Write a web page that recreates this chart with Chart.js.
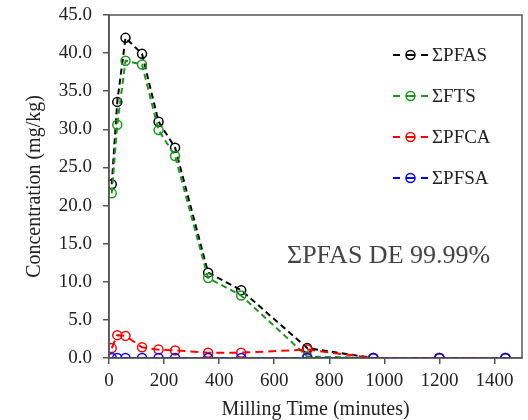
<!DOCTYPE html>
<html>
<head>
<meta charset="utf-8">
<script src="https://cdn.jsdelivr.net/npm/chart.js@4/dist/chart.umd.min.js"></script>
<style>
  html, body { margin: 0; padding: 0; background: #fff; }
  #wrap { width: 528px; height: 420px; }
</style>
</head>
<body>
<div id="wrap"><canvas id="myChart" width="528" height="420"></canvas></div>
<script>
// milling data (minutes vs mg/kg)
let times = [10, 30, 60, 120, 180, 240, 360, 480, 720, 960, 1200, 1440]
let pfas = [22.8, 33.6, 42.0, 39.9, 31.0, 27.6, 11.2, 8.9, 1.3, 0, 0, 0]
let fts = [21.6, 30.6, 39.0, 38.5, 29.9, 26.5, 10.5, 8.2, 0.2, 0, 0, 0]
let pfca = [1.3, 3.0, 2.9, 1.4, 1.1, 1.0, 0.7, 0.7, 1.1, 0, 0, 0]
let pfsa = [0, 0, 0, 0, 0, 0, 0, 0, 0, 0, 0, 0]
let yTicks = [0, 5, 10, 15, 20, 25, 30, 35, 40, 45]
let xTicks = [0, 200, 400, 600, 800, 1000, 1200, 1400]

let serif = "'Liberation Serif', 'Times New Roman', serif"

function pts(values) {
    return times.map((t, i) => ({ x: t, y: values[i] }))
}

function series(label, values, color, dash, order) {
    return {
        label: label,
        data: pts(values),
        borderColor: color,
        backgroundColor: 'rgba(0,0,0,0)',
        borderWidth: 2,
        borderDash: dash,
        pointRadius: 4.5,
        pointBorderWidth: 1.5,
        pointBorderColor: color,
        pointBackgroundColor: 'rgba(0,0,0,0)',
        tension: 0,
        order: order
    }
}

// frame round the plot, the legend and the DE label
const extras = {
    id: 'extras',
    afterDraw(chart) {
        let c = chart.ctx
        let a = chart.chartArea
        c.save()
        c.strokeStyle = '#555'
        c.lineWidth = 1.5
        c.strokeRect(a.left, a.top, a.right - a.left, a.bottom - a.top)

        // legend
        let ds = chart.data.datasets
        let y0 = 55
        ds.forEach((d, i) => {
            let y = y0 + i * 41
            c.strokeStyle = d.borderColor
            c.lineWidth = 2
            c.setLineDash([])
            c.beginPath()
            c.moveTo(393, y); c.lineTo(400, y)
            c.moveTo(406, y); c.lineTo(415, y)
            c.moveTo(421, y); c.lineTo(428, y)
            c.stroke()
            c.lineWidth = 1.5
            c.beginPath()
            c.arc(410.5, y, 4.5, 0, Math.PI * 2)
            c.stroke()
            c.fillStyle = '#222'
            c.font = '19px ' + serif
            c.textAlign = 'left'
            c.textBaseline = 'middle'
            c.fillText(d.label, 432, y + 1)
        })

        c.fillStyle = '#444'
        c.font = '26px ' + serif
        c.textAlign = 'left'
        c.textBaseline = 'middle'
        c.fillText('ΣPFAS DE 99.99%', 287, 256)
        c.restore()
    }
}

let ctx = document.getElementById('myChart')
new Chart(ctx, {
    type: 'line',
    data: {
        datasets: [
            series('ΣPFAS', pfas, '#000000', [6, 4], 3),
            series('ΣFTS', fts, 'rgb(30,150,30)', [6, 4], 2),
            series('ΣPFCA', pfca, '#ff0000', [8, 5], 1),
            series('ΣPFSA', pfsa, '#0000ff', [6, 4], 0)
        ]
    },
    options: {
        responsive: false,
        animation: false,
        layout: { padding: { top: 15, right: 3, left: 0, bottom: 0 } },
        plugins: { legend: { display: false }, tooltip: { enabled: false } },
        scales: {
            x: {
                type: 'linear',
                min: 0,
                max: 1500,
                afterFit: s => { s.height = 62; s.paddingLeft = 0; s.paddingRight = 0 },
                afterBuildTicks: s => { s.ticks = xTicks.map(v => ({ value: v })) },
                grid: { drawOnChartArea: false, tickLength: 6, color: '#555', lineWidth: 1.5 },
                border: { color: '#555', width: 1.5 },
                ticks: {
                    color: '#222',
                    padding: 6,
                    maxRotation: 0,
                    font: { family: serif, size: 19 },
                    callback: v => String(v)
                },
                title: {
                    display: true,
                    text: 'Milling Time (minutes)',
                    color: '#222',
                    font: { family: serif, size: 20, lineHeight: 1 },
                    padding: { top: 0, bottom: 0 }
                }
            },
            y: {
                min: 0,
                max: 45,
                afterFit: s => { s.width = 109; s.paddingTop = 0; s.paddingBottom = 0 },
                afterBuildTicks: s => { s.ticks = yTicks.map(v => ({ value: v })) },
                grid: { drawOnChartArea: false, tickLength: 6, color: '#555', lineWidth: 1.5 },
                border: { color: '#555', width: 1.5 },
                ticks: {
                    color: '#222',
                    padding: 11,
                    font: { family: serif, size: 19 },
                    callback: v => v.toFixed(1)
                },
                title: {
                    display: true,
                    text: 'Concentration (mg/kg)',
                    color: '#222',
                    font: { family: serif, size: 20, lineHeight: 1 },
                    padding: { top: 25, bottom: 0 }
                }
            }
        }
    },
    plugins: [extras]
});
</script>
</body>
</html>
